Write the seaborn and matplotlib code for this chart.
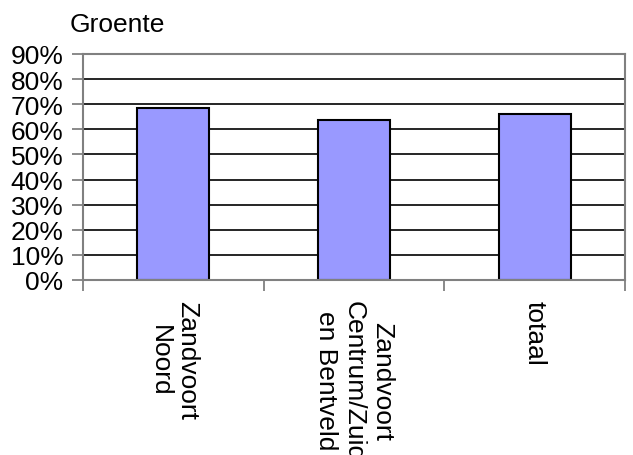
import matplotlib
matplotlib.use("Agg")
import matplotlib.pyplot as plt
import seaborn as sns
import pandas as pd
from matplotlib.ticker import PercentFormatter, FixedLocator

# Share of respondents eating vegetables, per district
categories = ["Zandvoort\nNoord", "Zandvoort\nCentrum/Zuid\nen Bentveld", "totaal"]
values = [0.684, 0.636, 0.660]
title = "Groente"

df = pd.DataFrame({"gebied": categories, "aandeel": values})

sns.set_theme(style="white")
plt.rcParams["font.family"] = ["Liberation Sans", "DejaVu Sans"]
plt.rcParams["text.color"] = "black"

W, H = 633, 456
fig = plt.figure(figsize=(W / 100, H / 100), dpi=100)
ax = fig.add_axes([83 / W, 1 - 281 / H, (625 - 83) / W, (281 - 55) / H])

sns.barplot(data=df, x="gebied", y="aandeel", ax=ax, color="#9999ff",
            saturation=1, width=0.4, edgecolor="black", linewidth=1.5)

ax.set_ylim(0, 0.9)
ax.set_xlim(-0.5, len(categories) - 0.5)
ax.yaxis.set_major_locator(FixedLocator([i / 10 for i in range(10)]))
ax.yaxis.set_major_formatter(PercentFormatter(1.0, decimals=0))
for y in [i / 10 for i in range(1, 9)]:
    ax.axhline(y, color="black", linewidth=1.2, zorder=0)

for s in ax.spines.values():
    s.set_visible(True)
    s.set_color("#808080")
    s.set_linewidth(1.5)

ax.set_xlabel("")
ax.set_ylabel("")
ax.tick_params(axis="y", left=True, length=8, width=1.3, color="#808080",
               labelsize=19, pad=6, labelcolor="black")
ax.set_xticks([0, 1, 2])
ax.set_xticklabels([])
# boundary ticks between categories
ax.set_xticks([-0.5, 0.5, 1.5, 2.5], minor=True)
ax.tick_params(axis="x", which="minor", bottom=True, length=8, width=1.3, color="#808080")
ax.tick_params(axis="x", which="major", bottom=False)

for i, lab in enumerate(categories):
    ax.annotate(lab, xy=(i, 0), xycoords=("data", "axes fraction"),
                xytext=(0, -20), textcoords="offset pixels",
                rotation=270, ha="center", va="top", multialignment="center",
                fontsize=19, linespacing=1.2, color="black",
                annotation_clip=False)

fig.text(70 / W, 1 - 13 / H, title, fontsize=19, ha="left", va="top", color="black")

fig.savefig("out.png", dpi=100)
